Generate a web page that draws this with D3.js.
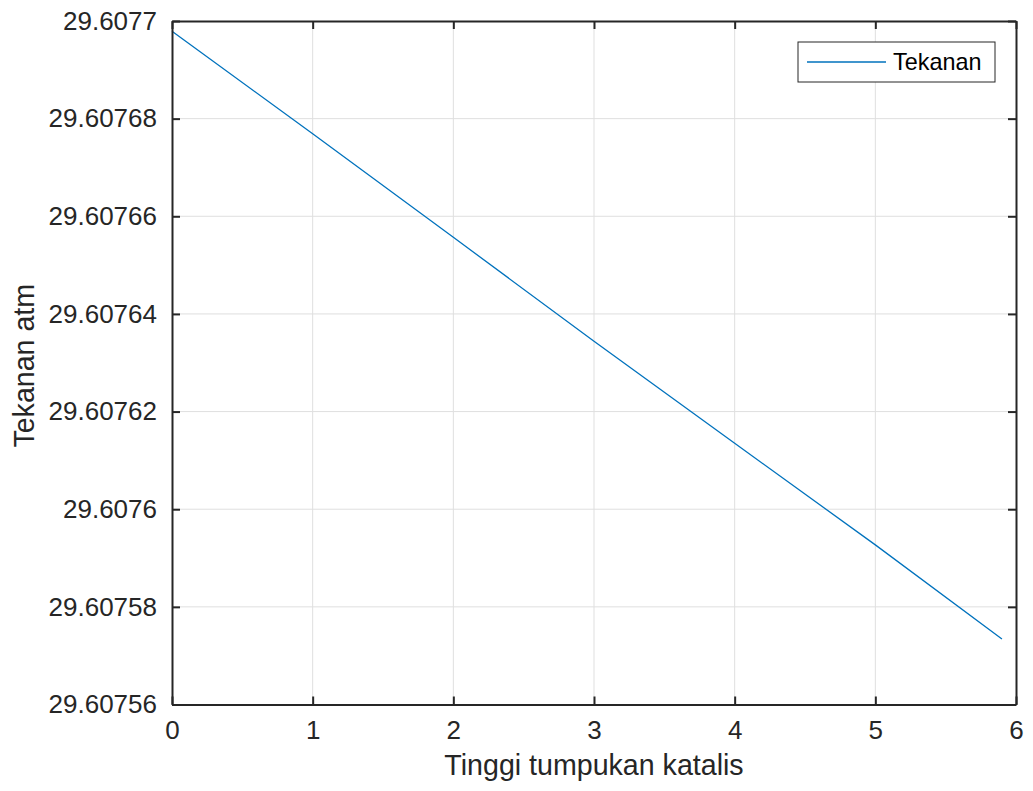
<!DOCTYPE html>
<html>
<head>
<meta charset="utf-8">
<script src="https://cdn.jsdelivr.net/npm/d3@7"></script>
<style>
  html, body { margin: 0; padding: 0; background: #fff; }
  svg { display: block; font-family: "Liberation Sans", Arial, Helvetica, sans-serif; }
</style>
</head>
<body>
<svg id="chart" width="1033" height="791"></svg>
<script>
// Data
const heights = [0, 1, 2, 3, 4, 5, 5.9];
const pressures = [29.6076979, 29.6076769, 29.6076557, 29.6076344, 29.6076135, 29.6075927, 29.6075734];
const xTicks = [0, 1, 2, 3, 4, 5, 6];
const yTicks = [29.60756, 29.60758, 29.6076, 29.60762, 29.60764, 29.60766, 29.60768, 29.6077];
const yTickLabels = ["29.60756", "29.60758", "29.6076", "29.60762", "29.60764", "29.60766", "29.60768", "29.6077"];
const seriesName = "Tekanan";
const xLabel = "Tinggi tumpukan katalis";
const yLabel = "Tekanan atm";

const svg = d3.select("#chart");
const L = 172, R = 1016, T = 21, B = 704.5;
const textColor = "#262626";

const x = d3.scaleLinear().domain([0, 6]).range([L, R]);
const y = d3.scaleLinear().domain([29.60756, 29.6077]).range([B, T]);

// grid
const grid = svg.append("g");
grid.selectAll("line.gx").data(xTicks.slice(1, -1)).join("line")
  .attr("x1", d => x(d)).attr("x2", d => x(d)).attr("y1", T).attr("y2", B)
  .attr("stroke", "#dfdfdf").attr("stroke-width", 1);
grid.selectAll("line.gy").data(yTicks.slice(1, -1)).join("line")
  .attr("y1", d => y(d)).attr("y2", d => y(d)).attr("x1", L).attr("x2", R)
  .attr("stroke", "#dfdfdf").attr("stroke-width", 1);

// line
svg.append("path")
  .datum(heights.map((h, i) => [h, pressures[i]]))
  .attr("fill", "none").attr("stroke", "#0072BD").attr("stroke-width", 1.3)
  .attr("d", d3.line().x(d => x(d[0])).y(d => y(d[1])));

// axes (ticks inward)
const fmt = d => yTickLabels[yTicks.indexOf(d)];
const axB = svg.append("g").attr("transform", `translate(0,${B})`)
  .call(d3.axisBottom(x).tickValues(xTicks).tickFormat(d3.format("d")).tickSizeInner(-8).tickSizeOuter(0).tickPadding(16));
const axT = svg.append("g").attr("transform", `translate(0,${T})`)
  .call(d3.axisTop(x).tickValues(xTicks).tickFormat("").tickSizeInner(-8).tickSizeOuter(0));
const axLft = svg.append("g").attr("transform", `translate(${L},0)`)
  .call(d3.axisLeft(y).tickValues(yTicks).tickFormat(fmt).tickSizeInner(-8).tickSizeOuter(0).tickPadding(15));
const axRt = svg.append("g").attr("transform", `translate(${R},0)`)
  .call(d3.axisRight(y).tickValues(yTicks).tickFormat("").tickSizeInner(-8).tickSizeOuter(0));

[axB, axT, axLft, axRt].forEach(g => {
  g.select(".domain").attr("stroke", textColor).attr("stroke-width", 2);
  g.selectAll(".tick line").attr("stroke", textColor).attr("stroke-width", 2);
  g.selectAll(".tick text").attr("fill", textColor).style("font-size", "26px")
    .style("font-family", "'Liberation Sans', Arial, sans-serif");
});
axB.selectAll(".tick text").attr("dy", "0.71em");

// axis labels
svg.append("text").attr("x", (L + R) / 2).attr("y", 775)
  .attr("text-anchor", "middle").attr("fill", textColor).style("font-size", "28.6px")
  .text(xLabel);
svg.append("text").attr("transform", `translate(34,${(T + B) / 2 + 3}) rotate(-90)`)
  .attr("text-anchor", "middle").attr("fill", textColor).style("font-size", "28.6px")
  .text(yLabel);

// legend
const lg = svg.append("g");
lg.append("rect").attr("x", 798).attr("y", 42).attr("width", 197).attr("height", 40)
  .attr("fill", "#fff").attr("stroke", textColor).attr("stroke-width", 1);
lg.append("line").attr("x1", 807).attr("x2", 886).attr("y1", 62).attr("y2", 62)
  .attr("stroke", "#0072BD").attr("stroke-width", 1.3);
lg.append("text").attr("x", 893).attr("y", 70).attr("fill", "#000")
  .style("font-size", "23.4px").text(seriesName);
</script>
</body>
</html>
